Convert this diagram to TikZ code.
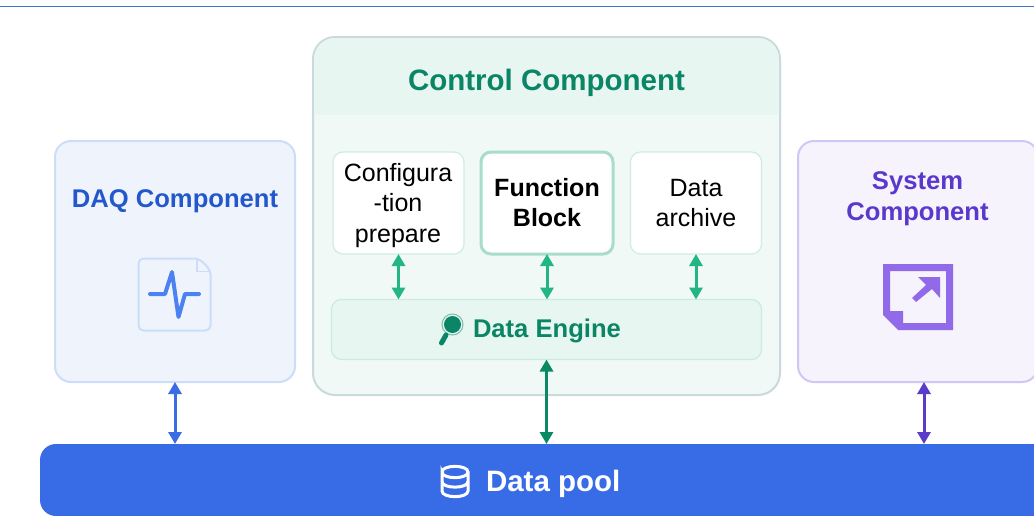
\documentclass[tikz,border=0pt]{standalone}
\usepackage{fontspec}
\setmainfont{Liberation Sans}
\usetikzlibrary{arrows.meta}
\definecolor{daqfill}{HTML}{EFF4FC}
\definecolor{daqline}{HTML}{CBDDF9}
\definecolor{daqtext}{HTML}{2358CC}
\definecolor{daqicon}{HTML}{4C82F0}
\definecolor{ctlfill}{HTML}{F0F9F6}
\definecolor{ctlhead}{HTML}{E8F6F1}
\definecolor{ctlline}{HTML}{C8DADC}
\definecolor{ctltext}{HTML}{0A8565}
\definecolor{cellline}{HTML}{D0ECE3}
\definecolor{fbline}{HTML}{A8DCCB}
\definecolor{engline}{HTML}{C8EDE0}
\definecolor{arrgreen}{HTML}{22B585}
\definecolor{arrdark}{HTML}{0A8A64}
\definecolor{arrblue}{HTML}{3A6DE5}
\definecolor{arrviolet}{HTML}{5A3CC8}
\definecolor{sysfill}{HTML}{F6F3FD}
\definecolor{sysline}{HTML}{D2C6F5}
\definecolor{systext}{HTML}{5B38CC}
\definecolor{sysicon}{HTML}{906AE8}
\definecolor{poolfill}{HTML}{386BE6}
\definecolor{topline}{HTML}{3F78C8}
\tikzset{
  x=1pt,y=-1pt,
  panel/.style={draw,line width=2pt,rounded corners=16pt,inner sep=0pt,outer sep=0pt,align=center},
  cell/.style={draw=cellline,fill=white,line width=1.2pt,rounded corners=10pt,minimum width=131pt,minimum height=102pt,inner sep=0pt,outer sep=0pt,align=center,font=\fontsize{25}{30}\selectfont},
  link/.style={line width=3pt,{Triangle[width=13pt,length=12pt]}-{Triangle[width=13pt,length=12pt]}},
  label/.style={inner sep=0pt,outer sep=0pt,align=center,font=\bfseries\fontsize{25.6}{31}\selectfont},
}
\begin{document}
\begin{tikzpicture}
\useasboundingbox (0,0) rectangle (1034,515);
\clip (0,0) rectangle (1034,515);
\fill[white] (0,0) rectangle (1034,515);
\coordinate (tl) at (0,6.5);
\coordinate (tr) at (1034,6.5);
\draw[topline,line width=1pt] (tl) -- (tr);
% Data pool
\node[fill=poolfill,rounded corners=16pt,minimum width=1030pt,minimum height=72pt,inner sep=0pt,outer sep=0pt,anchor=north west] (pool) at (40,444) {};
% DAQ
\node[panel,draw=daqline,fill=daqfill,minimum width=240pt,minimum height=241pt,anchor=north west] (daq) at (55,141) {};
\node[label,text=daqtext] (daqt) at (175,201) {DAQ Component};
% Control
\node[panel,draw=ctlline,fill=ctlfill,rounded corners=22pt,minimum width=467pt,minimum height=358pt,anchor=north west] (ctl) at (313,37) {};
\begin{scope}
\clip (314,38) rectangle (779,114);
\fill[ctlhead,rounded corners=21pt] (314,38) rectangle (779,160);
\end{scope}
\node[label,text=ctltext,font=\bfseries\fontsize{29.5}{34}\selectfont] (ctlt) at (546.5,82.5) {Control Component};
\node[cell] (cfg) at (398.5,203) {};
\node[inner sep=0pt,outer sep=0pt,align=center,font=\fontsize{25}{30.5}\selectfont] (cfgt) at (398,205.5) {Configura\\-tion\\prepare};
\node[cell,draw=fbline,line width=3pt,minimum width=132pt] (fb) at (547,203) {\bfseries Function\\\bfseries Block};
\node[cell] (arc) at (696,203) {Data\\archive};
\node[draw=engline,fill=ctlhead,line width=1.2pt,rounded corners=10pt,minimum width=430pt,minimum height=60pt,inner sep=0pt,outer sep=0pt] (eng) at (546.5,329.5) {};
\node[label,text=ctltext,anchor=west] (engt) at (473,331) {Data Engine};
% System
\node[panel,draw=sysline,fill=sysfill,minimum width=240pt,minimum height=241pt,anchor=north west] (sys) at (798,141) {};
\node[label,text=systext] (syst) at (917.5,199) {System\\Component};
% Pool label
\node[label,text=white,anchor=west,font=\bfseries\fontsize{29.5}{34}\selectfont] (poolt) at (486,483.5) {Data pool};
% Connectors
\coordinate (sysa) at (924,382);
\draw[link,arrblue] (daq.south) -- (daq.south |- pool.north);
\draw[link,arrdark,line width=3.2pt] (eng.south) -- (eng.south |- pool.north);
\draw[link,arrviolet] (sysa) -- (sysa |- pool.north);
\draw[link,arrgreen] (cfg.south) -- (cfg.south |- eng.north);
\draw[link,arrgreen] (fb.south) -- (fb.south |- eng.north);
\draw[link,arrgreen] (arc.south) -- (arc.south |- eng.north);
% DAQ icon
\draw[daqline,line width=2pt,rounded corners=5pt] (138.5,258.5) -- (199,258.5) -- (210.5,270) -- (210.5,330.5) -- (138.5,330.5) -- cycle;
\draw[daqline,line width=1.6pt] (197,259) -- (197,271.5) -- (210,271.5);
\draw[daqicon,line width=4pt,line cap=round,line join=round] (150,294) -- (165,294) -- (172,272) -- (178.5,317) -- (185,294) -- (199,294);
% System icon
\fill[sysicon,even odd rule] (883,264) -- (953,264) -- (953,330) -- (898,330) -- (883,315) -- cycle
  (890,271) -- (890,311) -- (903,311) -- (903,323) -- (946,323) -- (946,271) -- cycle;
\fill[sysicon] (918,277) -- (940,277) -- (940,298) -- (932,289) -- (916,302) -- (912,298) -- (926,285) -- cycle;
% Magnifier
\fill[ctltext] (452.5,324.5) circle (8.5pt);
\draw[ctltext!55!white,line width=1pt] (452.5,324.5) circle (10.5pt);
\draw[ctltext,line width=5pt,line cap=round] (446,335) -- (441.5,343);
% Database icon
\draw[white,line width=3pt,line cap=round]
  (442,472) .. controls (442,464.5) and (468,464.5) .. (468,472) .. controls (468,479.5) and (442,479.5) .. (442,472)
  -- (442,491) .. controls (442,498.5) and (468,498.5) .. (468,491) -- (468,472)
  (442,481.5) .. controls (442,489) and (468,489) .. (468,481.5);
\end{tikzpicture}
\end{document}
